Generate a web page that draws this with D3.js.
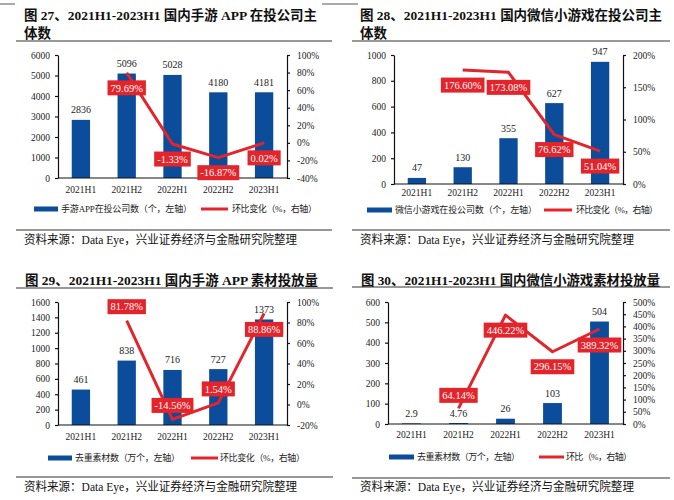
<!DOCTYPE html>
<html><head><meta charset="utf-8">
<script src="https://cdn.jsdelivr.net/npm/d3@7/dist/d3.min.js"></script>
<style>
body{margin:0;background:#fff;}
svg{display:block;}
</style></head>
<body>
<svg id="c" width="674" height="500"></svg>
<script>
// ---------- data ----------
const categories = ["2021H1","2021H2","2022H1","2022H2","2023H1"];

const appCompanies      = [2836, 5096, 5028, 4180, 4181];
const appCompaniesQoQ   = [null, 79.69, -1.33, -16.87, 0.02];
const appCompaniesLeftTicks  = [0,1000,2000,3000,4000,5000,6000];
const appCompaniesRightTicks = [-40,-20,0,20,40,60,80,100];

const miniCompanies     = [47, 130, 355, 627, 947];
const miniCompaniesQoQ  = [null, 176.60, 173.08, 76.62, 51.04];
const miniCompaniesLeftTicks  = [0,200,400,600,800,1000];
const miniCompaniesRightTicks = [0,50,100,150,200];

const appMaterials      = [461, 838, 716, 727, 1373];
const appMaterialsQoQ   = [null, 81.78, -14.56, 1.54, 88.86];
const appMaterialsLeftTicks  = [0,200,400,600,800,1000,1200,1400,1600];
const appMaterialsRightTicks = [-20,0,20,40,60,80,100];

const miniMaterials     = [2.9, 4.76, 26, 103, 504];
const miniMaterialsQoQ  = [null, 64.14, 446.22, 296.15, 389.32];
const miniMaterialsLeftTicks  = [0,100,200,300,400,500,600];
const miniMaterialsRightTicks = [0,50,100,150,200,250,300,350,400,450,500];

const titles = [
  ["图 27、2021H1-2023H1 国内手游 APP 在投公司主", "体数"],
  ["图 28、2021H1-2023H1 国内微信小游戏在投公司主", "体数"],
  ["图 29、2021H1-2023H1 国内手游 APP 素材投放量"],
  ["图 30、2021H1-2023H1 国内微信小游戏素材投放量"]
];
const barLegends  = ["手游APP在投公司数（个，左轴）","微信小游戏在投公司数（个，左轴）","去重素材数（万个，左轴）","去重素材数（万个，左轴）"];
const lineLegends = ["环比变化（%，右轴）","环比变化（%，右轴）","环比变化（%，右轴）","环比（%，右轴）"];
const sourceText = "资料来源：Data Eye，兴业证券经济与金融研究院整理";

// ---------- style / layout ----------
const BLUE = "#0b4c9b", RED = "#e3242b", INK = "#222";
const SERIF = "'Liberation Serif','Times New Roman','Noto Sans CJK SC',serif";
const CJK = "'Liberation Serif','Noto Sans CJK SC',serif";

const panels = [
  {bars: appCompanies, line: appCompaniesQoQ, lt: appCompaniesLeftTicks, rt: appCompaniesRightTicks,
   x0:58, x1:287, top:55, bottom:178, titleX:24, titleY:[15,33], titleW:293, divY:41, divX:[16,332],
   catY:190, legY:209, legRect:[34,58], legText:[61,131], legLine:[201,228], legLineText:[232,85],
   srcDiv:230, srcY:240, srcX:24, srcW:273, lblDy:[0,15,15,15,15]},
  {bars: miniCompanies, line: miniCompaniesQoQ, lt: miniCompaniesLeftTicks, rt: miniCompaniesRightTicks,
   x0:394, x1:623, top:55, bottom:184, titleX:360, titleY:[15,33], titleW:302, divY:41, divX:[352,670],
   catY:193, legY:210, legRect:[367,392], legText:[395,142], legLine:[544,572], legLineText:[576,82],
   srcDiv:230, srcY:240, srcX:360, srcW:274, lblDy:[0,15,15,15,15]},
  {bars: appMaterials, line: appMaterialsQoQ, lt: appMaterialsLeftTicks, rt: appMaterialsRightTicks,
   x0:58, x1:287, top:302, bottom:425, titleX:25, titleY:[280], titleW:293, divY:288, divX:[16,333],
   catY:437, legY:458, legRect:[48,72], legText:[75,105], legLine:[191,218], legLineText:[220,85],
   srcDiv:477, srcY:487, srcX:24, srcW:273, lblDy:[0,-14,-14,-14,16]},
  {bars: miniMaterials, line: miniMaterialsQoQ, lt: miniMaterialsLeftTicks, rt: miniMaterialsRightTicks,
   x0:388, x1:623, top:302, bottom:424, titleX:361, titleY:[280], titleW:299, divY:287, divX:[352,670],
   catY:435, legY:457, legRect:[389,414], legText:[417,103], legLine:[539,564], legLineText:[566,66],
   srcDiv:478, srcY:487, srcX:360, srcW:274, lblDy:[0,-13,15,15,16]}
];

const svg = d3.select("#c");

// faint page artifact lines at the very top
svg.append("line").attr("x1",0).attr("x2",15).attr("y1",4).attr("y2",4).attr("stroke","#555").attr("stroke-width",1);
svg.append("line").attr("x1",322).attr("x2",358).attr("y1",4).attr("y2",4).attr("stroke","#555").attr("stroke-width",1);

panels.forEach((p, i) => {
  const g = svg.append("g");

  // title
  titles[i].forEach((t, k) => {
    const el = g.append("text").attr("x", p.titleX).attr("y", p.titleY[k]).attr("dy","0.36em")
      .attr("font-family", CJK).attr("font-weight","bold").attr("font-size", 13.5).attr("fill","#111").text(t);
    if (k === 0) el.attr("textLength", p.titleW).attr("lengthAdjust","spacingAndGlyphs");
  });
  g.append("line").attr("x1",p.divX[0]).attr("x2",p.divX[1]).attr("y1",p.divY).attr("y2",p.divY)
    .attr("stroke","#333").attr("stroke-width",1.2);

  // scales
  const x = d3.scaleBand().domain(categories).range([p.x0, p.x1]).paddingInner(0.6).paddingOuter(0.3);
  const yL = d3.scaleLinear().domain(d3.extent(p.lt)).range([p.bottom, p.top]);
  const yR = d3.scaleLinear().domain(d3.extent(p.rt)).range([p.bottom, p.top]);

  // bars
  g.selectAll("rect.bar").data(p.bars).join("rect").attr("class","bar")
    .attr("x",(d,j)=>x(categories[j])).attr("width",x.bandwidth())
    .attr("y",d=>yL(d)).attr("height",d=>p.bottom-yL(d)).attr("fill",BLUE);

  // bar value labels
  g.selectAll("text.bv").data(p.bars).join("text").attr("class","bv")
    .attr("x",(d,j)=>x(categories[j])+x.bandwidth()/2).attr("y",d=>yL(d)-10)
    .attr("text-anchor","middle").attr("dy","0.35em")
    .attr("font-family",SERIF).attr("font-size",10).attr("fill",INK).text(d=>String(d));

  // axes
  const axL = g.append("g").attr("transform",`translate(${p.x0},0)`)
    .call(d3.axisLeft(yL).tickValues(p.lt).tickSizeInner(3).tickSizeOuter(0).tickPadding(5).tickFormat(d=>d));
  const axR = g.append("g").attr("transform",`translate(${p.x1},0)`)
    .call(d3.axisRight(yR).tickValues(p.rt).tickSizeInner(3).tickSizeOuter(0).tickPadding(7).tickFormat(d=>d+"%"));
  [axL, axR].forEach(a => {
    a.selectAll("path,line").attr("stroke","#111").attr("stroke-width",1.2);
    a.selectAll("text").attr("font-family",SERIF).attr("font-size",9.5).attr("fill",INK);
  });
  g.append("line").attr("x1",p.x0).attr("x2",p.x1).attr("y1",p.bottom).attr("y2",p.bottom)
    .attr("stroke","#111").attr("stroke-width",1.2);

  // category labels
  g.selectAll("text.cat").data(categories).join("text").attr("class","cat")
    .attr("x",d=>x(d)+x.bandwidth()/2).attr("y",p.catY).attr("dy","0.35em").attr("text-anchor","middle")
    .attr("font-family",SERIF).attr("font-size",9.5).attr("fill",INK).text(d=>d);

  // line
  const pts = p.line.map((v,j)=>({v, c:categories[j], dy:p.lblDy[j]})).filter(d=>d.v!==null);
  const lineGen = d3.line().x(d=>x(d.c)+x.bandwidth()/2).y(d=>yR(d.v));
  g.append("path").datum(pts).attr("d",lineGen).attr("fill","none").attr("stroke",RED)
    .attr("stroke-width",3).attr("stroke-linejoin","round");

  // line labels
  pts.forEach(d => {
    const cx = x(d.c)+x.bandwidth()/2, cy = yR(d.v)+d.dy;
    const lg = g.append("g");
    const rect = lg.append("rect").attr("fill",RED);
    const t = lg.append("text").attr("x",cx).attr("y",cy).attr("dy","0.35em").attr("text-anchor","middle")
      .attr("font-family",SERIF).attr("font-size",10.5).attr("fill","#fff").text(d.v.toFixed(2)+"%");
    const w = t.node().getComputedTextLength() + 6;
    rect.attr("x",cx-w/2).attr("y",cy-7.5).attr("width",w).attr("height",15);
  });

  // legend
  g.append("rect").attr("x",p.legRect[0]).attr("y",p.legY-2.5).attr("width",p.legRect[1]-p.legRect[0]).attr("height",5).attr("fill",BLUE);
  g.append("text").attr("x",p.legText[0]).attr("y",p.legY).attr("dy","0.35em")
    .attr("font-family",CJK).attr("font-size",9).attr("fill",INK)
    .attr("textLength",p.legText[1]).attr("lengthAdjust","spacing").text(barLegends[i]);
  g.append("line").attr("x1",p.legLine[0]).attr("x2",p.legLine[1]).attr("y1",p.legY).attr("y2",p.legY)
    .attr("stroke",RED).attr("stroke-width",3);
  g.append("text").attr("x",p.legLineText[0]).attr("y",p.legY).attr("dy","0.35em")
    .attr("font-family",CJK).attr("font-size",9).attr("fill",INK)
    .attr("textLength",p.legLineText[1]).attr("lengthAdjust","spacing").text(lineLegends[i]);

  // source
  g.append("line").attr("x1",p.divX[0]).attr("x2",p.divX[1]).attr("y1",p.srcDiv).attr("y2",p.srcDiv)
    .attr("stroke","#333").attr("stroke-width",1.2);
  g.append("text").attr("x",p.srcX).attr("y",p.srcY).attr("dy","0.36em")
    .attr("font-family",CJK).attr("font-size",12).attr("fill","#111")
    .attr("textLength",p.srcW).attr("lengthAdjust","spacingAndGlyphs").text(sourceText);
});
</script>
</body></html>
